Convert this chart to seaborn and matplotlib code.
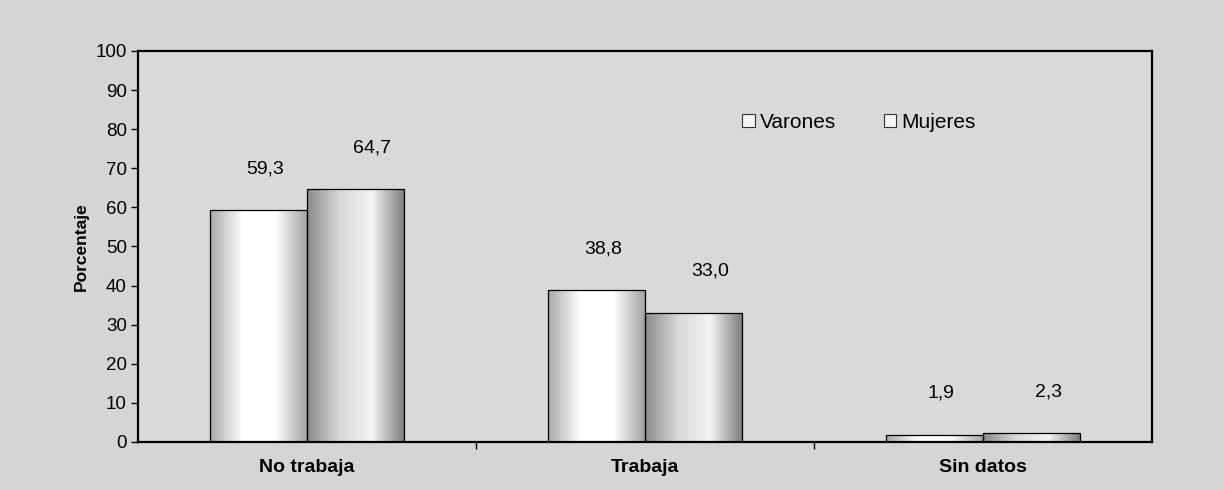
import numpy as np
import pandas as pd
import matplotlib
matplotlib.use("Agg")
import matplotlib.pyplot as plt
from matplotlib.colors import LinearSegmentedColormap
import seaborn as sns

# data
categorias = ["No trabaja", "Trabaja", "Sin datos"]
sexos = ["Varones", "Mujeres"]
varones = [59.3, 38.8, 1.9]
mujeres = [64.7, 33.0, 2.3]

df = pd.DataFrame({
    "categoria": categorias * 2,
    "sexo": [sexos[0]] * 3 + [sexos[1]] * 3,
    "valor": varones + mujeres,
})

sns.set_theme(style="white")
plt.rcParams["font.family"] = ["Liberation Sans", "DejaVu Sans"]
plt.rcParams["text.color"] = "black"
plt.rcParams["xtick.color"] = "black"
plt.rcParams["ytick.color"] = "black"
plt.rcParams["axes.labelcolor"] = "black"

fig = plt.figure(figsize=(12.24, 4.9), dpi=100, facecolor="#d5d5d5")
ax = fig.add_axes([0.1127, 0.098, 0.8284, 0.798])
ax.set_facecolor("#d9d9d9")

sns.barplot(data=df, x="categoria", y="valor", hue="sexo", order=categorias,
            hue_order=sexos, width=0.574, gap=0, palette=["#f2f2f2", "#c8c8c8"],
            edgecolor="black", linewidth=0.9, ax=ax, legend=True)

# cylinder-like shading for each bar
grad_v = LinearSegmentedColormap.from_list("v", ["#a8a8a8", "#ffffff", "#ffffff", "#a0a0a0"])
grad_m = LinearSegmentedColormap.from_list("m", ["#8a8a8a", "#d8d8d8", "#f4f4f4", "#7a7a7a"])
ramp = np.linspace(0, 1, 256).reshape(1, -1)
for cont, cmap in zip(ax.containers, [grad_v, grad_m]):
    for bar in cont:
        x0, w = bar.get_x(), bar.get_width()
        h = bar.get_height()
        im = ax.imshow(ramp, cmap=cmap, aspect="auto", extent=[x0, x0 + w, 0, h],
                       zorder=0.9, interpolation="bicubic")
        im.set_clip_path(bar)
        bar.set_facecolor("none")
        bar.set_zorder(1)

# value labels (excel puts them a bit right of the bar centre)
for cont, vals, dx in zip(ax.containers, [varones, mujeres], [4.5, 12]):
    for bar, v in zip(cont, vals):
        ax.annotate(f"{v:.1f}".replace(".", ","),
                    (bar.get_x() + bar.get_width() / 2, v + 10.6),
                    xytext=(dx, 0), textcoords="offset points",
                    ha="center", va="center", fontsize=14)

ax.set_xlim(-0.5, 2.5)
ax.set_ylim(0, 100)
ax.set_yticks(range(0, 101, 10))
ax.set_xticks(range(3))
ax.set_xticklabels(categorias, fontsize=14, fontweight="bold")
ax.set_xticks([0.5, 1.5], minor=True)
ax.tick_params(axis="x", which="major", length=0, pad=12)
ax.tick_params(axis="x", which="minor", length=5, width=1, color="black", direction="out", bottom=True)
ax.tick_params(axis="y", length=5, width=1, color="black", direction="out", left=True,
               labelsize=13.5, pad=3)
ax.set_xlabel("")
ax.set_ylabel("Porcentaje", fontsize=12.5, fontweight="bold", labelpad=5)

for s in ax.spines.values():
    s.set_visible(True)
    s.set_color("black")
    s.set_linewidth(1.6)

handles, labels = ax.get_legend_handles_labels()
leg = ax.legend(handles, labels, loc="center left", bbox_to_anchor=(0.596, 0.818),
                ncol=2, frameon=False, fontsize=15, handlelength=0.62, handleheight=0.62,
                handletextpad=0.25, columnspacing=2.25, borderaxespad=0, borderpad=0)
for h in leg.legend_handles:
    h.set_facecolor("#f4f4f4")
    h.set_edgecolor("#333333")
    h.set_linewidth(0.8)

fig.savefig("out.png", dpi=100, facecolor=fig.get_facecolor())
